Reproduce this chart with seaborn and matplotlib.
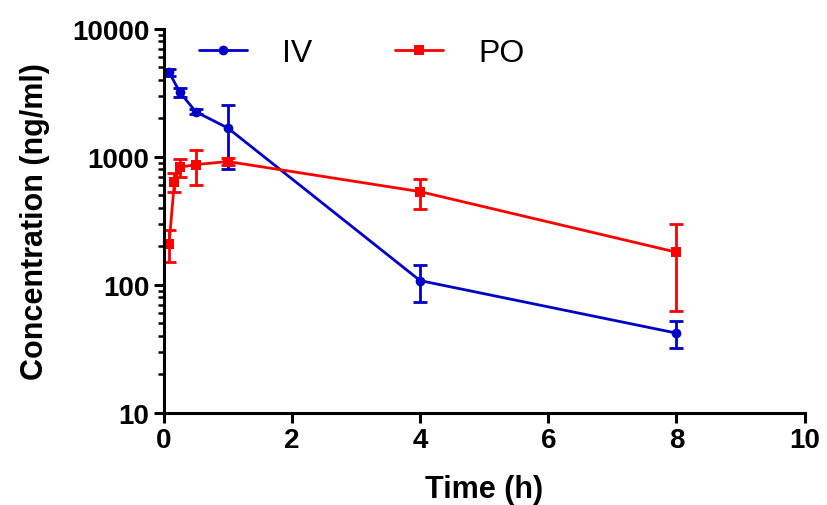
import numpy as np
import pandas as pd
import seaborn as sns
import matplotlib
matplotlib.use("Agg")
import matplotlib.pyplot as plt
from matplotlib.ticker import LogLocator, NullFormatter, FixedLocator

# data (mean +/- SD)
iv_time = [0.083, 0.25, 0.5, 1, 4, 8]
iv_conc = [4600, 3200, 2250, 1680, 108, 42]
iv_sd = [300, 250, 100, 880, 35, 10]

po_time = [0.083, 0.167, 0.25, 0.5, 1, 4, 8]
po_conc = [210, 640, 830, 870, 920, 535, 180]
po_sd = [60, 110, 130, 270, 60, 140, 117]

groups = ["IV", "PO"]
colors = {"IV": "#0000C8", "PO": "#FF0000"}
markers = {"IV": "o", "PO": "s"}

df = pd.concat([
    pd.DataFrame({"time": iv_time, "conc": iv_conc, "sd": iv_sd, "group": "IV"}),
    pd.DataFrame({"time": po_time, "conc": po_conc, "sd": po_sd, "group": "PO"}),
])

sns.set_style("ticks")
plt.rcParams['font.family'] = ['Liberation Sans', 'DejaVu Sans']
plt.rcParams['font.weight'] = 'bold'
for k in ["text.color", "axes.labelcolor", "xtick.color", "ytick.color", "axes.edgecolor"]:
    plt.rcParams[k] = "black"

fig = plt.figure(figsize=(8.27, 5.06), dpi=100)
ax = fig.add_axes([0.198, 0.182, 0.775, 0.759])

sns.lineplot(data=df, x="time", y="conc", hue="group", style="group",
             markers=markers, dashes=False, palette=colors, hue_order=groups,
             linewidth=2, markersize=7, markeredgewidth=0, ax=ax)

for g in groups:
    d = df[df.group == g]
    ax.errorbar(d.time, d.conc, yerr=d.sd, fmt="none", ecolor=colors[g],
                elinewidth=2, capsize=5, capthick=2)

ax.set_yscale("log")
ax.set_ylim(10, 10000)
ax.set_xlim(0, 10)
ax.set_xticks([0, 2, 4, 6, 8, 10])
ax.yaxis.set_major_locator(FixedLocator([10, 100, 1000, 10000]))
ax.set_yticklabels(["10", "100", "1000", "10000"])
ax.yaxis.set_minor_locator(LogLocator(base=10, subs=np.arange(2, 10)))
ax.yaxis.set_minor_formatter(NullFormatter())

ax.set_xlabel("Time (h)", fontsize=22, fontweight="bold", labelpad=15)
ax.set_ylabel("Concentration (ng/ml)", fontsize=22, fontweight="bold", labelpad=16)
ax.tick_params(axis="both", which="major", labelsize=20, width=2.2, length=7)
ax.tick_params(axis="y", which="minor", width=1.8, length=4)
for lab in ax.get_xticklabels() + ax.get_yticklabels():
    lab.set_fontweight("bold")

for s in ["left", "bottom"]:
    ax.spines[s].set_linewidth(2.2)
sns.despine(ax=ax)

handles, labels = ax.get_legend_handles_labels()
leg = ax.legend(handles, labels, ncol=2, frameon=False, fontsize=23,
                loc="upper left", bbox_to_anchor=(0.01, 1.05),
                handlelength=1.5, handletextpad=1.1, columnspacing=2.6)
for t in leg.get_texts():
    t.set_fontweight("normal")

fig.savefig("out.png", dpi=100)
